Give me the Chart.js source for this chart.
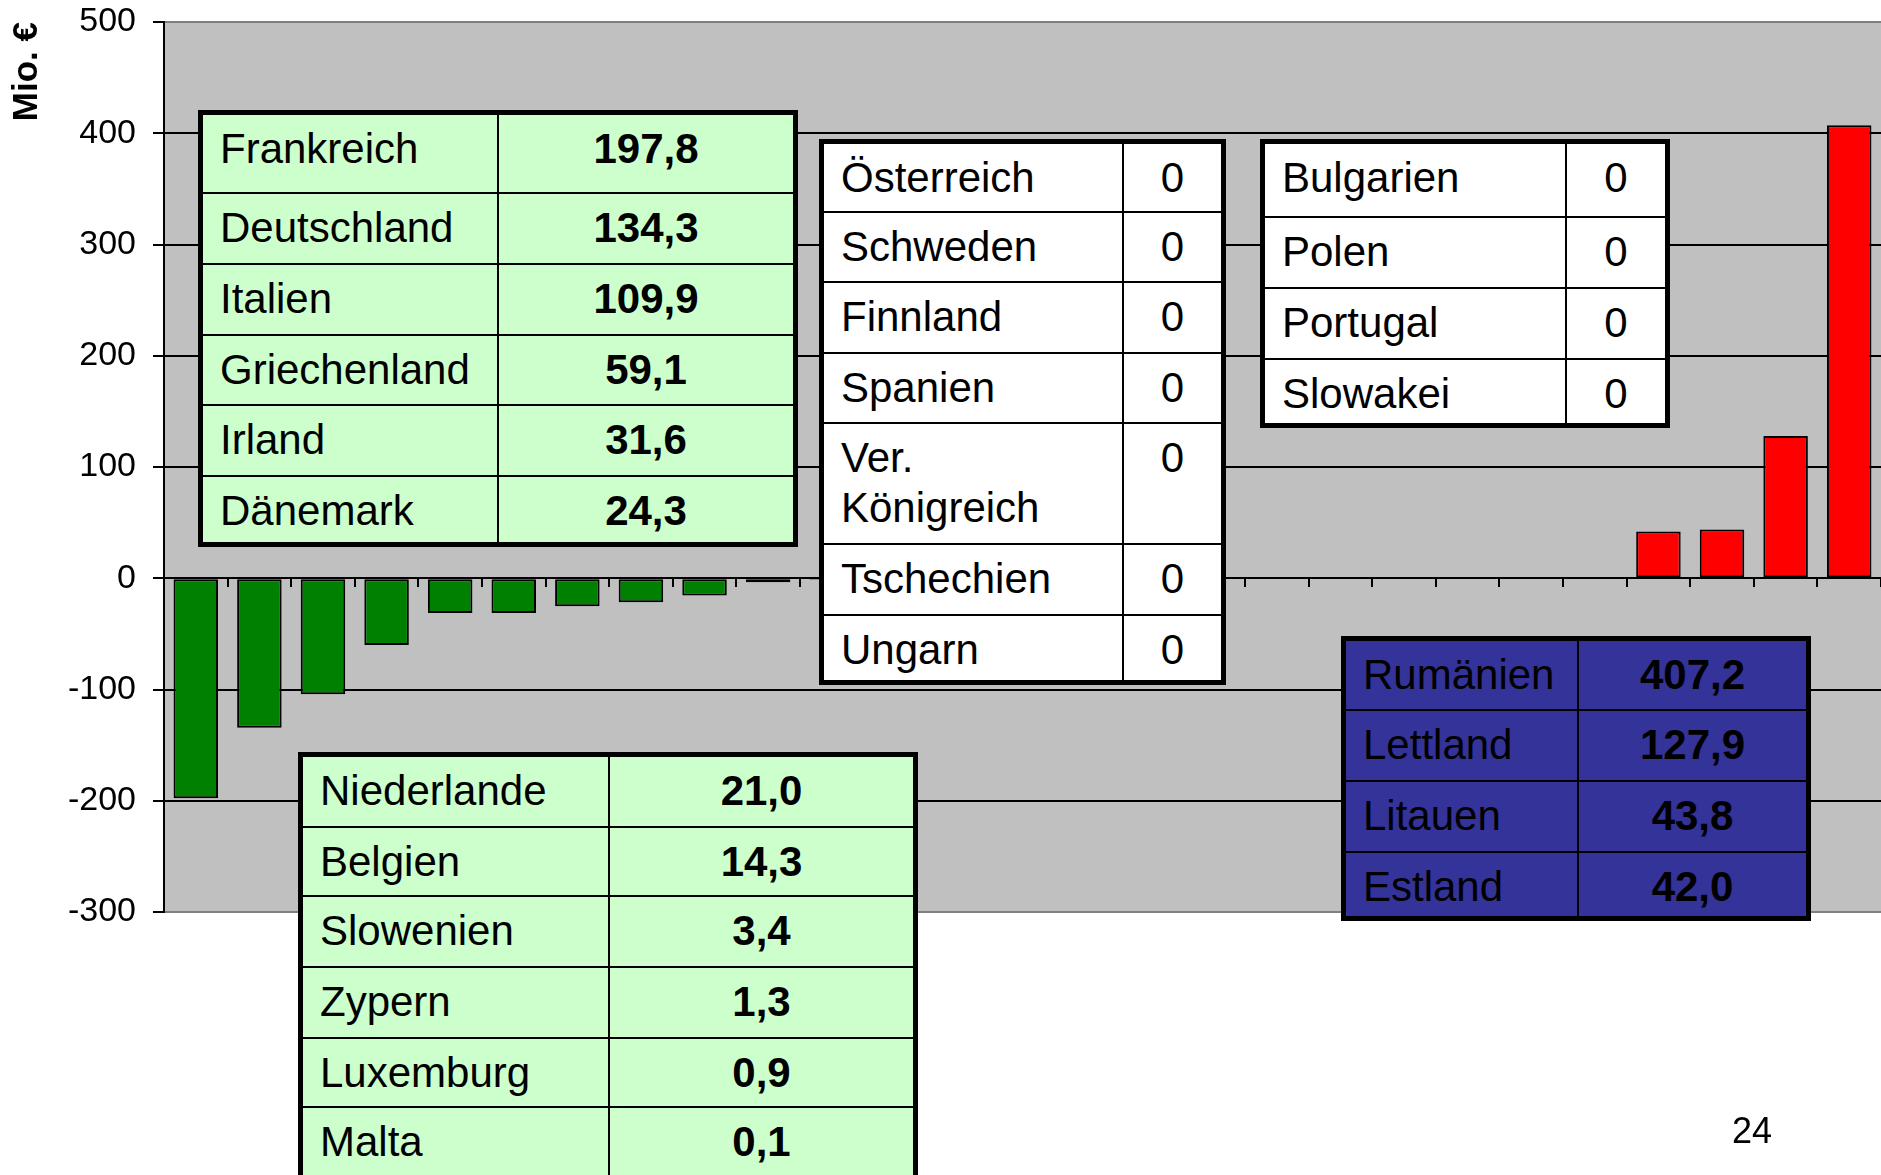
<!DOCTYPE html>
<html>
<head>
<meta charset="utf-8">
<script src="https://cdn.jsdelivr.net/npm/chart.js@4.4.1/dist/chart.umd.min.js"></script>
<style>
  html, body { margin: 0; padding: 0; background: #fff; overflow: hidden; }
  #wrap { position: relative; width: 1881px; height: 1175px; overflow: hidden; }
  #chart { position: absolute; left: 0; top: 0; }
  .tbl { position: absolute; border: 5px solid #000; box-sizing: border-box; overflow: hidden;
         font-family: "Liberation Sans", Arial, sans-serif; font-size: 42px; color: #000; }
  .row { display: flex; box-sizing: border-box; border-top: 2px solid #000; }
  .row:first-child { border-top: none; }
  .cell { box-sizing: border-box; padding-top: 9px; line-height: 50px; }
  .name { border-right: 2px solid #000; padding-left: 17px; }
  .val { flex: 1; text-align: center; }
  .bold .val { font-weight: bold; }
  #page { position: absolute; left: 1732px; top: 1110px; font: 36px "Liberation Sans", Arial, sans-serif; }
</style>
</head>
<body>
<div id="wrap">
  <canvas id="chart" width="1881" height="1175"></canvas>
  <div id="page">24</div>
</div>
<script>
// bars, in chart order (Mio. €)
const countries = ['Frankreich', 'Deutschland', 'Italien', 'Griechenland', 'Irland', 'Dänemark',
    'Niederlande', 'Belgien', 'Slowenien', 'Zypern', 'Luxemburg', 'Malta',
    'Österreich', 'Schweden', 'Finnland', 'Spanien', 'Ver. Königreich', 'Tschechien', 'Ungarn',
    'Bulgarien', 'Polen', 'Portugal', 'Slowakei', 'Estland', 'Litauen', 'Lettland', 'Rumänien'];
const balance = [-197.8, -134.3, -104.3, -60.0, -31.2, -31.2, -25.2, -21.5, -15.5, -3.7, -1.3, -0.9,
    0, 0, 0, 0, 0, 0, 0, 0, 0, 0, 0, 42.0, 43.8, 127.9, 407.2];
const yTicks = [-300, -200, -100, 0, 100, 200, 300, 400, 500];

// tables
const tableA = ['Frankreich', 'Deutschland', 'Italien', 'Griechenland', 'Irland', 'Dänemark'];
const tableAVals = ['197,8', '134,3', '109,9', '59,1', '31,6', '24,3'];
const tableB = ['Österreich', 'Schweden', 'Finnland', 'Spanien', 'Ver.<br>Königreich', 'Tschechien', 'Ungarn'];
const tableBVals = ['0', '0', '0', '0', '0', '0', '0'];
const tableC = ['Bulgarien', 'Polen', 'Portugal', 'Slowakei'];
const tableCVals = ['0', '0', '0', '0'];
const tableD = ['Niederlande', 'Belgien', 'Slowenien', 'Zypern', 'Luxemburg', 'Malta'];
const tableDVals = ['21,0', '14,3', '3,4', '1,3', '0,9', '0,1'];
const tableE = ['Rumänien', 'Lettland', 'Litauen', 'Estland'];
const tableEVals = ['407,2', '127,9', '43,8', '42,0'];

function makeTable(names, vals, o) {
    const t = document.createElement('div');
    t.className = 'tbl' + (o.bold ? ' bold' : '');
    t.style.left = o.x + 'px';
    t.style.top = o.y + 'px';
    t.style.width = o.w + 'px';
    if (o.h) t.style.height = o.h + 'px';
    t.style.background = o.bg;
    names.forEach(function (n, i) {
        const r = document.createElement('div');
        r.className = 'row';
        r.style.height = o.rows[i] + 'px';
        r.innerHTML = '<div class="cell name" style="width:' + o.col + 'px">' + n + '</div>' +
            '<div class="cell val">' + vals[i] + '</div>';
        t.appendChild(r);
    });
    document.getElementById('wrap').appendChild(t);
}

makeTable(tableA, tableAVals, { x: 198, y: 110, w: 600, h: 437, col: 296, bg: '#ccffcc', bold: true,
    rows: [77, 71, 71, 70, 71, 67] });
makeTable(tableB, tableBVals, { x: 819, y: 139, w: 407, h: 546, col: 300, bg: '#ffffff',
    rows: [67, 70, 71, 70, 121, 71, 66] });
makeTable(tableC, tableCVals, { x: 1260, y: 139, w: 410, h: 289, col: 302, bg: '#ffffff',
    rows: [72, 71, 71, 65] });
makeTable(tableD, tableDVals, { x: 298, y: 752, w: 620, col: 307, bg: '#ccffcc', bold: true,
    rows: [69, 69, 71, 71, 69, 72] });
makeTable(tableE, tableEVals, { x: 1341, y: 636, w: 470, h: 285, col: 233, bg: '#333399', bold: true,
    rows: [68, 71, 71, 65] });

const plotBg = {
    id: 'plotBg',
    beforeDraw: function (chart) {
        const a = chart.chartArea;
        chart.ctx.save();
        chart.ctx.fillStyle = '#c0c0c0';
        chart.ctx.fillRect(a.left, a.top, a.right - a.left, a.bottom - a.top);
        chart.ctx.restore();
    }
};

const ctx = document.getElementById('chart').getContext('2d');
new Chart(ctx, {
    type: 'bar',
    data: {
        labels: countries,
        datasets: [{
            data: balance,
            backgroundColor: balance.map(v => v < 0 ? '#008000' : '#ff0000'),
            borderColor: '#000',
            borderWidth: 2,
            borderSkipped: false,
            barPercentage: 0.7,
            categoryPercentage: 1.0
        }]
    },
    options: {
        responsive: false,
        animation: false,
        layout: { padding: { top: 22, bottom: 263, left: 0, right: 0 } },
        plugins: { legend: { display: false }, tooltip: { enabled: false } },
        scales: {
            x: {
                position: { y: 0 },
                offset: true,
                ticks: { display: false },
                grid: { drawOnChartArea: false, drawTicks: true, tickLength: 8, color: '#000', lineWidth: 2, offset: true },
                border: { display: true, color: '#000', width: 2 }
            },
            y: {
                min: yTicks[0],
                max: yTicks[yTicks.length - 1],
                afterBuildTicks: function (s) { s.ticks = yTicks.map(v => ({ value: v })); },
                afterFit: function (s) {
                    s.width = 164;
                    s.paddingTop = 0;
                    s.paddingBottom = 0;
                },
                ticks: {
                    color: '#000',
                    padding: 17,
                    font: { family: '"Liberation Sans", Arial, sans-serif', size: 34 }
                },
                grid: {
                    color: c => (c.tick && (c.tick.value === 500 || c.tick.value === -300)) ? '#808080' : '#000',
                    lineWidth: 2,
                    tickLength: 11,
                    tickColor: '#000',
                    tickWidth: 2
                },
                border: { display: true, color: '#000', width: 2 },
                title: {
                    display: true,
                    text: 'Mio. €',
                    align: 'end',
                    color: '#000',
                    padding: { top: 6, bottom: 0 },
                    font: { family: '"Liberation Sans", Arial, sans-serif', size: 35, weight: 'bold' }
                }
            }
        }
    },
    plugins: [plotBg]
});
</script>
</body>
</html>
